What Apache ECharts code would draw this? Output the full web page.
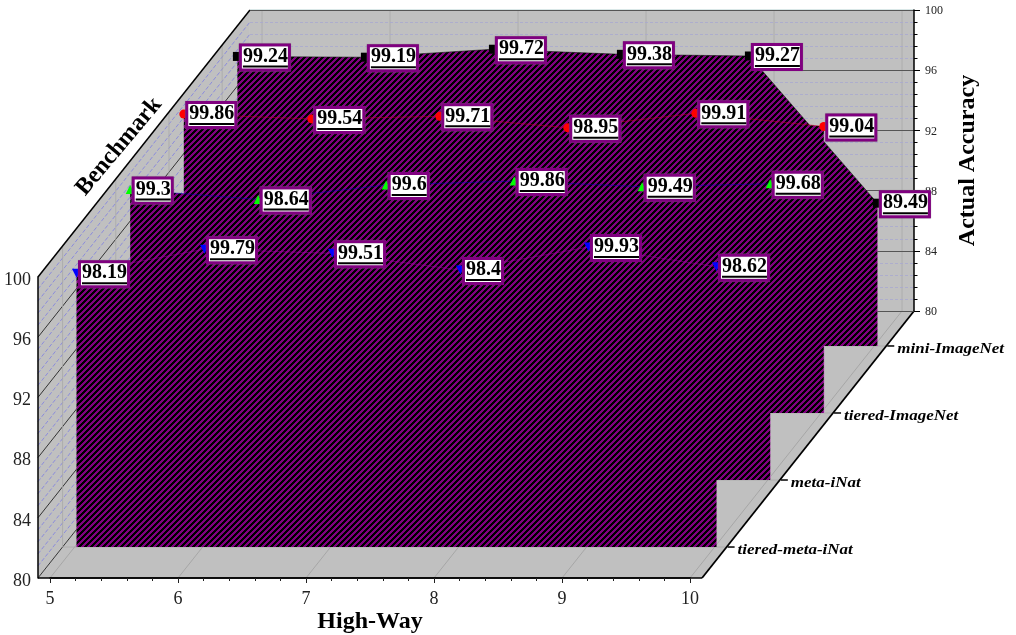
<!DOCTYPE html>
<html>
<head>
<meta charset="utf-8">
<style>html,body{margin:0;padding:0;background:#fff}#c{width:1016px;height:635px}</style>
<script src="https://cdn.jsdelivr.net/npm/echarts@6/dist/echarts.min.js"></script>
</head>
<body>
<div id="c"></div>
<script>
var highWay = [5, 6, 7, 8, 9, 10];
var benchmarks = ['tiered-meta-iNat', 'meta-iNat', 'tiered-ImageNet', 'mini-ImageNet'];
var tieredMetaINat = [98.19, 99.79, 99.51, 98.4, 99.93, 98.62];
var metaINat = [99.3, 98.64, 99.6, 99.86, 99.49, 99.68];
var tieredImageNet = [99.86, 99.54, 99.71, 98.95, 99.91, 99.04];
var miniImageNet = [99.24, 99.19, 99.72, 99.38, 99.27, 89.49];
var layers = [tieredMetaINat, metaINat, tieredImageNet, miniImageNet];
var symbols = ['triangle', 'triangle', 'circle', 'rect'];
var symbolRotates = [180, 0, 0, 0];
var symbolColors = ['#0000ff', '#00ff00', '#ff0000', '#000000'];
var lineColors = ['#a000a0', '#0000c0', '#d00020', '#000000'];
var yTicksMajor = [80, 84, 88, 92, 96, 100];
var yTicksMinor = [];
for (var v = 80; v <= 100.001; v += 0.8) yTicksMinor.push(+v.toFixed(1));

var SERIF = '"Liberation Serif", serif';
var X0 = 4.906, X1 = 10.094, DX = 212, DY = 267;
var depthT = [0.116, 0.367, 0.618, 0.869];
var layerLeft = [76.5, 130.2, 183.8, 237.4];
var layerBase = [547, 480, 413, 346];

var tile = document.createElement('canvas');
tile.width = 6; tile.height = 6;
var g = tile.getContext('2d');
for (var py = 0; py < 6; py++) {
  for (var px = 0; px < 6; px++) {
    g.fillStyle = ((px + py) % 6 < 3) ? '#000000' : '#800080';
    g.fillRect(px, py, 1, 1);
  }
}

function renderFrame(params, api) {
  function P(x, y, t) {
    var c = api.coord([x, y]);
    return [c[0] + DX * t, c[1] - DY * t];
  }
  var kids = [];
  function poly(pts, fill) {
    kids.push({ type: 'polygon', shape: { points: pts }, style: { fill: fill, stroke: null } });
  }
  function line(a, b, color, w, dash) {
    kids.push({ type: 'line', shape: { x1: a[0], y1: a[1], x2: b[0], y2: b[1] },
      style: { stroke: color, lineWidth: w, lineDash: dash || null } });
  }
  var W = '#c0c0c0';
  poly([P(X0, 100, 0), P(X0, 100, 1), P(X0, 80, 1), P(X0, 80, 0)], W);
  poly([P(X0, 100, 1), P(X1, 100, 1), P(X1, 80, 1), P(X0, 80, 1)], W);
  poly([P(X0, 80, 0), P(X1, 80, 0), P(X1, 80, 1), P(X0, 80, 1)], W);
  yTicksMinor.forEach(function (y) {
    if (yTicksMajor.indexOf(y) < 0) line(P(X0, y, 0), P(X0, y, 1), '#8c8cdc', 1, [4, 2]);
  });
  yTicksMajor.forEach(function (y) {
    if (y < 100) line(P(X0, y, 0), P(X0, y, 1), '#222', 0.9);
  });
  depthT.forEach(function (t) {
    line(P(X0, 80, t), P(X0, 100, t), '#a8a8a8', 0.8);
    line(P(X0, 80, t), P(X1, 80, t), '#a8a8a8', 0.8);
  });
  highWay.forEach(function (x) {
    line(P(x, 80, 0), P(x, 80, 1), '#a0a0a0', 0.8);
    line(P(x, 80, 1), P(x, 100, 1), '#a8a8a8', 0.8);
  });
  line(P(X0, 100, 1), P(X1, 100, 1), '#b4d0d0', 1.2);
  line(P(X0, 80, 0), P(X1, 80, 0), '#000', 1.5);
  line(P(X1, 80, 0), P(X1, 80, 1), '#000', 1.8);
  line(P(X0, 100, 0), P(X0, 100, 1), '#000', 1.5);
  benchmarks.forEach(function (name, i) {
    var e = P(X1, 80, depthT[i]);
    line([e[0] + 1, e[1]], [e[0] + 8, e[1]], '#000', 1.5);
    kids.push({ type: 'text', x: e[0] + 11, y: e[1] + 3.5, originY: 0, scaleY: 0.85,
      style: { text: name, fill: '#000', align: 'left', verticalAlign: 'middle',
        font: 'italic bold 17px ' + SERIF } });
  });
  var b = P(X0, 100, 0.5);
  kids.push({ type: 'text', x: b[0] - 25, y: b[1] + 3, rotation: 50 * Math.PI / 180,
    style: { text: 'Benchmark', fill: '#000', align: 'center', verticalAlign: 'middle',
      font: 'bold 24px ' + SERIF } });
  return { type: 'group', children: kids };
}

var grids = [
  { left: 50, top: 277, width: 640, height: 301, outerBoundsMode: 'none' },
  { left: 250, top: 10, width: 664, height: 301, outerBoundsMode: 'none' }
];
var xAxes = [
  { gridIndex: 0, type: 'value', min: 5, max: 10, interval: 1, position: 'bottom',
    name: 'High-Way', nameLocation: 'middle', nameGap: 32,
    nameTextStyle: { fontFamily: SERIF, fontWeight: 'bold', fontSize: 24, color: '#000' },
    axisLine: { show: true, lineStyle: { color: '#000', width: 1.5 } },
    axisTick: { show: true, length: 5, lineStyle: { color: '#222' } },
    minorTick: { show: true, splitNumber: 5, length: 3, lineStyle: { color: '#222' } },
    splitLine: { show: false },
    axisLabel: { fontFamily: SERIF, fontSize: 18, color: '#222', margin: 12 } },
  { gridIndex: 1, type: 'value', min: 0, max: 1, show: false }
];
var yAxes = [
  { gridIndex: 0, type: 'value', min: 80, max: 100, interval: 4, position: 'left', offset: 12,
    axisLine: { show: true, onZero: false, lineStyle: { color: '#000', width: 1.5 } },
    axisTick: { show: false }, splitLine: { show: false },
    axisLabel: { fontFamily: SERIF, fontSize: 18, color: '#222', margin: 7, verticalAlign: 'top', lineHeight: 6 } },
  { gridIndex: 1, type: 'value', min: 80, max: 100, interval: 4, position: 'right',
    name: 'Actual Accuracy', nameLocation: 'middle', nameGap: 42, nameRotate: 90,
    nameTextStyle: { fontFamily: SERIF, fontWeight: 'bold', fontSize: 24, color: '#000' },
    axisLine: { show: true, onZero: false, lineStyle: { color: '#000', width: 1.5 } },
    axisTick: { show: true, length: 6, lineStyle: { color: '#000' } },
    minorTick: { show: true, splitNumber: 5, length: 3.5, lineStyle: { color: '#000' } },
    splitLine: { show: true, lineStyle: { color: '#555', width: 1 } },
    minorSplitLine: { show: true, lineStyle: { color: '#a8a8d0', width: 0.8, type: [3, 2] } },
    axisLabel: { fontFamily: SERIF, fontSize: 12, color: '#222', margin: 11, verticalAlign: 'top', lineHeight: 2 } }
];
var series = [
  { type: 'custom', xAxisIndex: 0, yAxisIndex: 0, z: -1, silent: true, clip: false,
    data: [[5, 80]], renderItem: renderFrame }
];
layers.forEach(function (vals, i) {
  grids.push({ left: layerLeft[i], top: layerBase[i] - 301, width: 640, height: 301, outerBoundsMode: 'none' });
  xAxes.push({ gridIndex: i + 2, type: 'value', min: 5, max: 10, show: false });
  yAxes.push({ gridIndex: i + 2, type: 'value', min: 80, max: 100, show: false });
  var last = vals[vals.length - 1];
  series.push({
    type: 'line', name: benchmarks[i], xAxisIndex: i + 2, yAxisIndex: i + 2,
    z: 10 - i, silent: true, clip: false, animation: false,
    data: vals.map(function (v, k) { return [highWay[k], v]; }),
    symbol: symbols[i], symbolRotate: symbolRotates[i], symbolSize: 9,
    showAllSymbol: true,
    itemStyle: { color: symbolColors[i] },
    lineStyle: { color: lineColors[i], width: 0.5 },
    areaStyle: { origin: 'start', opacity: 1, color: { image: tile, repeat: 'repeat' } },
    markLine: { silent: true, symbol: 'none', animation: false, label: { show: false },
      lineStyle: { color: '#c898c8', width: 0.8, type: 'solid' },
      data: [[{ coord: [10, last] }, { coord: [10, 80] }]] },
    label: {
      show: true, position: 'right', distance: 0, offset: [0, 1],
      formatter: function (p) { return '{t|' + p.value[1] + '}\n{u| }'; },
      backgroundColor: '#fff', borderColor: '#800080', borderWidth: 3,
      padding: [1, 0, 1, 1],
      shadowColor: '#777', shadowBlur: 1,
      rich: {
        t: { fontFamily: SERIF, fontWeight: 'bold', fontSize: 20, lineHeight: 18, height: 18, color: '#000' },
        u: { width: '100%', height: 2, lineHeight: 2, fontSize: 1, backgroundColor: '#000' }
      }
    }
  });
});

var chart = echarts.init(document.getElementById('c'), null, { renderer: 'canvas' });
chart.setOption({
  animation: false,
  backgroundColor: '#fff',
  grid: grids, xAxis: xAxes, yAxis: yAxes, series: series
});
</script>
</body>
</html>
